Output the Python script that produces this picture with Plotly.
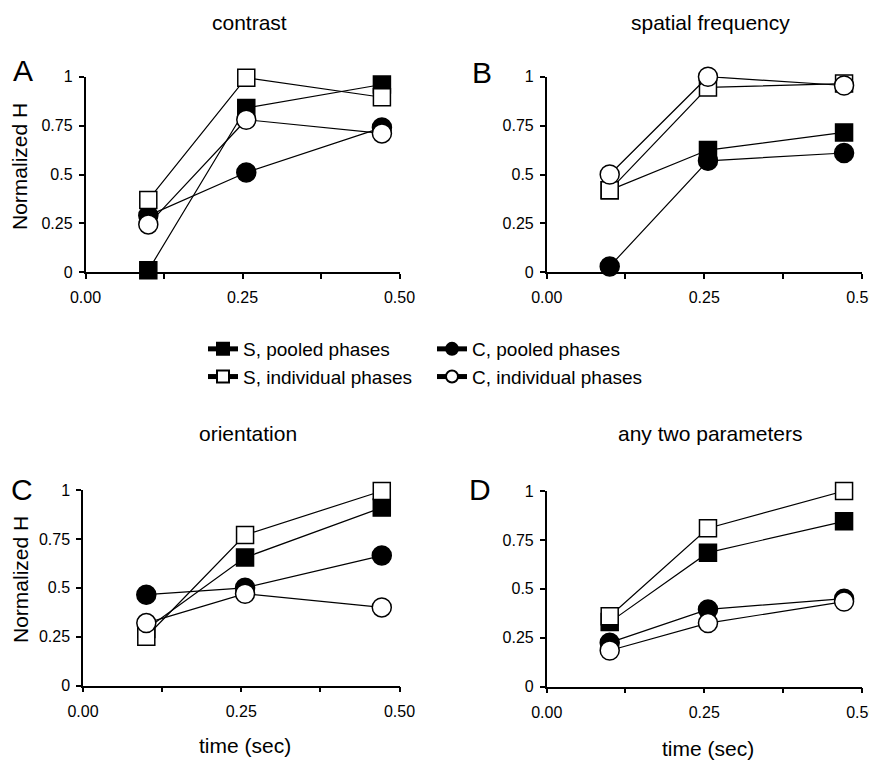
import plotly.graph_objects as go

# ---------------- data ----------------
time = [0.10, 0.256, 0.472]
panel_titles = ["contrast", "spatial frequency", "orientation", "any two parameters"]
panel_letters = ["A", "B", "C", "D"]

S_pooled = {
    "A": [0.01, 0.84, 0.96],
    "B": [0.42, 0.625, 0.715],
    "C": [0.29, 0.655, 0.91],
    "D": [0.33, 0.685, 0.845],
}
C_pooled = {
    "A": [0.29, 0.51, 0.74],
    "B": [0.03, 0.57, 0.61],
    "C": [0.465, 0.50, 0.665],
    "D": [0.225, 0.395, 0.45],
}
S_indiv = {
    "A": [0.37, 0.995, 0.895],
    "B": [0.42, 0.945, 0.965],
    "C": [0.25, 0.77, 0.995],
    "D": [0.36, 0.81, 1.0],
}
C_indiv = {
    "A": [0.245, 0.78, 0.71],
    "B": [0.50, 1.0, 0.955],
    "C": [0.32, 0.47, 0.40],
    "D": [0.185, 0.325, 0.435],
}

x_tickvals = [0, 0.125, 0.25, 0.375, 0.5]
x_ticktext = ["0.00", "", "0.25", "", "0.50"]
y_tickvals = [0, 0.25, 0.5, 0.75, 1]
y_ticktext = ["0", "0.25", "0.5", "0.75", "1"]

legend_names = ["S, pooled phases", "C, pooled phases",
                "S, individual phases", "C, individual phases"]

# ---------------- layout geometry ----------------
W, H = 877, 762
OFF = 8  # page body margin offset of the figure in the browser
FONT = "Liberation Sans, Arial, Helvetica, sans-serif"


def fx(p):
    return (p - OFF) / W


def fy(p):
    return 1 - (p - OFF) / H


# pixel boxes (screen coords): (left, right, top, bottom)
boxes = {
    "A": (85.5, 399.5, 76.7, 272.3),
    "B": (546.7, 861.7, 76.7, 272.3),
    "C": (83.0, 399.5, 490.0, 685.7),
    "D": (546.7, 861.7, 491.0, 686.7),
}

fig = go.Figure()

series = [
    (S_pooled, "square", "black", legend_names[0], "legend", 17),
    (C_pooled, "circle", "black", legend_names[1], "legend2", 19),
    (S_indiv, "square", "white", legend_names[2], "legend", 17),
    (C_indiv, "circle", "white", legend_names[3], "legend2", 19),
]

layout = dict(
    width=W, height=H,
    margin=dict(l=0, r=0, t=0, b=0, pad=0, autoexpand=False),
    paper_bgcolor="white", plot_bgcolor="white",
    font=dict(family=FONT, color="black"),
    showlegend=True,
)

annotations = []
for i, key in enumerate(["A", "B", "C", "D"]):
    l, r, t, b = boxes[key]
    xa = "xaxis" if i == 0 else f"xaxis{i+1}"
    ya = "yaxis" if i == 0 else f"yaxis{i+1}"
    xref = "x" if i == 0 else f"x{i+1}"
    yref = "y" if i == 0 else f"y{i+1}"
    layout[xa] = dict(
        domain=[fx(l), fx(r)], range=[0, 0.5], anchor=yref,
        showline=True, linecolor="black", linewidth=1.5,
        showgrid=False, zeroline=False, automargin=False,
        ticks="outside", ticklen=5, tickwidth=1.5, tickcolor="black",
        tickvals=x_tickvals, ticktext=x_ticktext,
        tickfont=dict(size=16, family=FONT, color="black"),
        ticklabelstandoff=5, ticklabeloverflow="allow", fixedrange=True,
    )
    layout[ya] = dict(
        domain=[fy(b), fy(t)], range=[0, 1], anchor=xref,
        showline=True, linecolor="black", linewidth=1.5,
        showgrid=False, zeroline=False, automargin=False,
        ticks="outside", ticklen=5, tickwidth=1.5, tickcolor="black",
        tickvals=y_tickvals, ticktext=y_ticktext,
        tickfont=dict(size=16, family=FONT, color="black"),
        ticklabelstandoff=3, ticklabeloverflow="allow", fixedrange=True,
    )
    for data, sym, fill, name, leg, size in series:
        fig.add_trace(go.Scatter(
            x=time, y=data[key], mode="lines+markers",
            xaxis=xref, yaxis=yref, name=name, legend=leg,
            showlegend=(i == 0), cliponaxis=False,
            line=dict(color="black", width=1.2),
            marker=dict(symbol=sym, size=size, color=fill,
                        line=dict(color="black", width=1.5)),
        ))

# titles, panel letters, axis titles (screen coords)
title_pos = {"A": (250, 22), "B": (710, 22), "C": (248, 433), "D": (710, 433)}
letter_pos = {"A": (23, 70), "B": (482, 72), "C": (22, 489), "D": (480, 489)}
for key, title, letter in zip(["A", "B", "C", "D"], panel_titles, panel_letters):
    tx, ty = title_pos[key]
    annotations.append(dict(text=title, x=fx(tx), y=fy(ty), xref="paper", yref="paper",
                            showarrow=False, xanchor="center", yanchor="middle",
                            font=dict(size=21, family=FONT, color="black")))
    lx, ly = letter_pos[key]
    annotations.append(dict(text=letter, x=fx(lx), y=fy(ly), xref="paper", yref="paper",
                            showarrow=False, xanchor="center", yanchor="middle",
                            font=dict(size=30, family=FONT, color="black")))

for (yx, yy) in [(20, 167), (20, 580)]:
    annotations.append(dict(text="Normalized H", x=fx(yx), y=fy(yy), xref="paper", yref="paper",
                            showarrow=False, textangle=-90, xanchor="center", yanchor="middle",
                            font=dict(size=21, family=FONT, color="black")))
for (tx, ty) in [(245, 745), (708, 748)]:
    annotations.append(dict(text="time (sec)", x=fx(tx), y=fy(ty), xref="paper", yref="paper",
                            showarrow=False, xanchor="center", yanchor="middle",
                            font=dict(size=21, family=FONT, color="black")))

layout["annotations"] = annotations
leg_common = dict(orientation="v", xanchor="left", yanchor="top",
                  font=dict(size=19, family=FONT, color="black"),
                  itemsizing="constant", bgcolor="rgba(0,0,0,0)",
                  tracegroupgap=0, itemclick=False, itemdoubleclick=False)
layout["legend"] = dict(x=fx(203), y=fy(330), **leg_common)
layout["legend2"] = dict(x=fx(432), y=fy(330), **leg_common)

fig.update_layout(**layout)
fig.write_html("out.html")
